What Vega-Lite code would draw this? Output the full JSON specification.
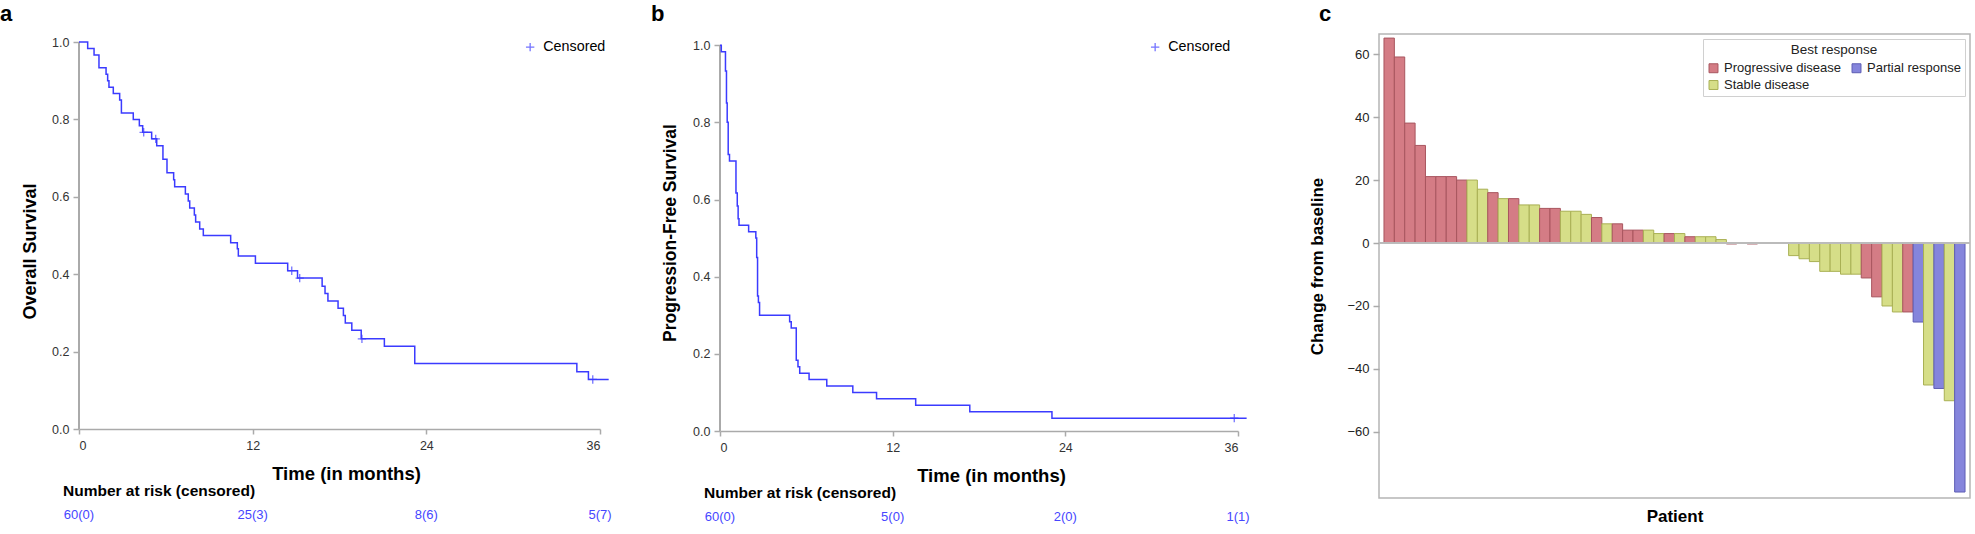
{
  "$schema": "https://vega.github.io/schema/vega-lite/v6.json",
  "padding": {"left": 0, "top": 2, "right": 0, "bottom": 0},
  "background": "white",
  "config": {
    "font": "Liberation Sans",
    "view": {"stroke": null},
    "axis": {"grid": false, "labelFont": "Liberation Sans", "titleFont": "Liberation Sans", "labelColor": "#333333", "titleColor": "#000000", "domainColor": "#aaaaaa", "tickColor": "#aaaaaa", "domainWidth": 1.5, "tickWidth": 1.5},
    "title": {"font": "Liberation Sans", "color": "#000000"}
  },
  "datasets": {
    "os": [
      {"t": 0, "s": 1.0, "status": "Event"},
      {"t": 0.6, "s": 0.9833, "status": "Event"},
      {"t": 1.04, "s": 0.9667, "status": "Event"},
      {"t": 1.38, "s": 0.9333, "status": "Event"},
      {"t": 1.87, "s": 0.9167, "status": "Event"},
      {"t": 1.98, "s": 0.9, "status": "Event"},
      {"t": 2.07, "s": 0.8833, "status": "Event"},
      {"t": 2.37, "s": 0.8667, "status": "Event"},
      {"t": 2.81, "s": 0.85, "status": "Event"},
      {"t": 2.93, "s": 0.8167, "status": "Event"},
      {"t": 3.75, "s": 0.8, "status": "Event"},
      {"t": 4.17, "s": 0.7833, "status": "Event"},
      {"t": 4.4, "s": 0.7667, "status": "Event"},
      {"t": 4.47, "s": 0.7667, "status": "Censored"},
      {"t": 5.02, "s": 0.7497, "status": "Event"},
      {"t": 5.3, "s": 0.7497, "status": "Censored"},
      {"t": 5.37, "s": 0.7322, "status": "Event"},
      {"t": 5.8, "s": 0.697, "status": "Event"},
      {"t": 6.08, "s": 0.662, "status": "Event"},
      {"t": 6.54, "s": 0.644, "status": "Event"},
      {"t": 6.61, "s": 0.626, "status": "Event"},
      {"t": 7.35, "s": 0.607, "status": "Event"},
      {"t": 7.55, "s": 0.589, "status": "Event"},
      {"t": 7.65, "s": 0.571, "status": "Event"},
      {"t": 7.97, "s": 0.553, "status": "Event"},
      {"t": 8.06, "s": 0.535, "status": "Event"},
      {"t": 8.34, "s": 0.517, "status": "Event"},
      {"t": 8.59, "s": 0.5, "status": "Event"},
      {"t": 10.48, "s": 0.481, "status": "Event"},
      {"t": 10.94, "s": 0.466, "status": "Event"},
      {"t": 11.01, "s": 0.447, "status": "Event"},
      {"t": 12.19, "s": 0.428, "status": "Event"},
      {"t": 14.42, "s": 0.409, "status": "Event"},
      {"t": 14.7, "s": 0.409, "status": "Censored"},
      {"t": 15.1, "s": 0.39, "status": "Event"},
      {"t": 15.25, "s": 0.39, "status": "Censored"},
      {"t": 16.8, "s": 0.369, "status": "Event"},
      {"t": 17.0, "s": 0.35, "status": "Event"},
      {"t": 17.2, "s": 0.331, "status": "Event"},
      {"t": 17.9, "s": 0.312, "status": "Event"},
      {"t": 18.27, "s": 0.293, "status": "Event"},
      {"t": 18.4, "s": 0.274, "status": "Event"},
      {"t": 18.85, "s": 0.255, "status": "Event"},
      {"t": 19.5, "s": 0.233, "status": "Event"},
      {"t": 19.55, "s": 0.233, "status": "Censored"},
      {"t": 21.1, "s": 0.214, "status": "Event"},
      {"t": 23.2, "s": 0.169, "status": "Event"},
      {"t": 34.4, "s": 0.148, "status": "Event"},
      {"t": 35.2, "s": 0.128, "status": "Event"},
      {"t": 35.5, "s": 0.128, "status": "Censored"},
      {"t": 36.6, "s": 0.128, "status": "End"}
    ],
    "pfs": [
      {"t": 0, "s": 1.0, "status": "Event"},
      {"t": 0.09, "s": 0.9833, "status": "Event"},
      {"t": 0.38, "s": 0.9333, "status": "Event"},
      {"t": 0.45, "s": 0.85, "status": "Event"},
      {"t": 0.5, "s": 0.8, "status": "Event"},
      {"t": 0.57, "s": 0.7167, "status": "Event"},
      {"t": 0.66, "s": 0.7, "status": "Event"},
      {"t": 1.11, "s": 0.6167, "status": "Event"},
      {"t": 1.2, "s": 0.5833, "status": "Event"},
      {"t": 1.26, "s": 0.55, "status": "Event"},
      {"t": 1.32, "s": 0.5333, "status": "Event"},
      {"t": 1.99, "s": 0.5167, "status": "Event"},
      {"t": 2.49, "s": 0.5, "status": "Event"},
      {"t": 2.55, "s": 0.45, "status": "Event"},
      {"t": 2.61, "s": 0.35, "status": "Event"},
      {"t": 2.67, "s": 0.3333, "status": "Event"},
      {"t": 2.75, "s": 0.3, "status": "Event"},
      {"t": 4.84, "s": 0.2833, "status": "Event"},
      {"t": 4.95, "s": 0.2667, "status": "Event"},
      {"t": 5.3, "s": 0.1833, "status": "Event"},
      {"t": 5.42, "s": 0.1667, "status": "Event"},
      {"t": 5.54, "s": 0.15, "status": "Event"},
      {"t": 6.19, "s": 0.1333, "status": "Event"},
      {"t": 7.42, "s": 0.1167, "status": "Event"},
      {"t": 9.23, "s": 0.1, "status": "Event"},
      {"t": 10.88, "s": 0.0833, "status": "Event"},
      {"t": 13.6, "s": 0.0667, "status": "Event"},
      {"t": 17.36, "s": 0.05, "status": "Event"},
      {"t": 23.07, "s": 0.0333, "status": "Event"},
      {"t": 35.74, "s": 0.0333, "status": "Censored"},
      {"t": 36.6, "s": 0.0333, "status": "End"}
    ],
    "riskOS": [
      {"t": 0, "label": "60(0)"},
      {"t": 12, "label": "25(3)"},
      {"t": 24, "label": "8(6)"},
      {"t": 36, "label": "5(7)"}
    ],
    "riskPFS": [
      {"t": 0, "label": "60(0)"},
      {"t": 12, "label": "5(0)"},
      {"t": 24, "label": "2(0)"},
      {"t": 36, "label": "1(1)"}
    ],
    "waterfall": [
      {"patient": 1, "change": 65.1, "response": "Progressive disease"},
      {"patient": 2, "change": 59.1, "response": "Progressive disease"},
      {"patient": 3, "change": 38.1, "response": "Progressive disease"},
      {"patient": 4, "change": 31.0, "response": "Progressive disease"},
      {"patient": 5, "change": 21.1, "response": "Progressive disease"},
      {"patient": 6, "change": 21.1, "response": "Progressive disease"},
      {"patient": 7, "change": 21.1, "response": "Progressive disease"},
      {"patient": 8, "change": 20.0, "response": "Progressive disease"},
      {"patient": 9, "change": 20.0, "response": "Stable disease"},
      {"patient": 10, "change": 17.1, "response": "Stable disease"},
      {"patient": 11, "change": 16.0, "response": "Progressive disease"},
      {"patient": 12, "change": 14.1, "response": "Stable disease"},
      {"patient": 13, "change": 14.1, "response": "Progressive disease"},
      {"patient": 14, "change": 12.1, "response": "Stable disease"},
      {"patient": 15, "change": 12.1, "response": "Stable disease"},
      {"patient": 16, "change": 11.0, "response": "Progressive disease"},
      {"patient": 17, "change": 11.0, "response": "Progressive disease"},
      {"patient": 18, "change": 10.1, "response": "Stable disease"},
      {"patient": 19, "change": 10.1, "response": "Stable disease"},
      {"patient": 20, "change": 9.1, "response": "Stable disease"},
      {"patient": 21, "change": 8.1, "response": "Progressive disease"},
      {"patient": 22, "change": 6.1, "response": "Stable disease"},
      {"patient": 23, "change": 6.1, "response": "Progressive disease"},
      {"patient": 24, "change": 4.1, "response": "Progressive disease"},
      {"patient": 25, "change": 4.1, "response": "Progressive disease"},
      {"patient": 26, "change": 4.1, "response": "Stable disease"},
      {"patient": 27, "change": 3.0, "response": "Stable disease"},
      {"patient": 28, "change": 3.0, "response": "Progressive disease"},
      {"patient": 29, "change": 3.0, "response": "Stable disease"},
      {"patient": 30, "change": 2.0, "response": "Progressive disease"},
      {"patient": 31, "change": 2.0, "response": "Stable disease"},
      {"patient": 32, "change": 2.0, "response": "Stable disease"},
      {"patient": 33, "change": 1.1, "response": "Stable disease"},
      {"patient": 34, "change": -0.3, "response": "Progressive disease"},
      {"patient": 35, "change": -0.1, "response": "Stable disease"},
      {"patient": 36, "change": -0.3, "response": "Progressive disease"},
      {"patient": 37, "change": -0.1, "response": "Stable disease"},
      {"patient": 38, "change": -0.1, "response": "Stable disease"},
      {"patient": 39, "change": -0.1, "response": "Stable disease"},
      {"patient": 40, "change": -4.0, "response": "Stable disease"},
      {"patient": 41, "change": -5.0, "response": "Stable disease"},
      {"patient": 42, "change": -5.9, "response": "Stable disease"},
      {"patient": 43, "change": -9.0, "response": "Stable disease"},
      {"patient": 44, "change": -9.0, "response": "Stable disease"},
      {"patient": 45, "change": -9.9, "response": "Stable disease"},
      {"patient": 46, "change": -9.9, "response": "Stable disease"},
      {"patient": 47, "change": -11.1, "response": "Progressive disease"},
      {"patient": 48, "change": -17.1, "response": "Progressive disease"},
      {"patient": 49, "change": -20.0, "response": "Stable disease"},
      {"patient": 50, "change": -21.9, "response": "Stable disease"},
      {"patient": 51, "change": -21.9, "response": "Progressive disease"},
      {"patient": 52, "change": -25.1, "response": "Partial response"},
      {"patient": 53, "change": -45.1, "response": "Stable disease"},
      {"patient": 54, "change": -46.2, "response": "Partial response"},
      {"patient": 55, "change": -50.1, "response": "Stable disease"},
      {"patient": 56, "change": -79.1, "response": "Partial response"}
    ]
  },
  "resolve": {"scale": {"fill": "independent", "stroke": "independent", "shape": "independent"}, "legend": {"fill": "independent", "stroke": "independent", "shape": "independent"}},
  "hconcat": [
    {
      "resolve": {"scale": {"shape": "independent"}, "legend": {"shape": "independent"}},
      "hconcat": [
        {
          "vconcat": [
            {
              "title": {"text": "a", "anchor": "start", "frame": "group", "fontSize": 22, "fontWeight": "bold", "dx": -79, "offset": -9, "baseline": "alphabetic"},
              "width": 521,
              "height": 395,
              "data": {"name": "os"},
              "layer": [
                {
                  "mark": {"type": "rule", "color": "#aaaaaa", "strokeWidth": 1.5},
                  "encoding": {"x": {"datum": 0, "type": "quantitative"}, "y": {"datum": 0, "type": "quantitative"}, "y2": {"datum": 1}}
                },
                {
                  "mark": {"type": "line", "interpolate": "step-after", "color": "#3b3bff", "strokeWidth": 1.5},
                  "encoding": {
                    "x": {"field": "t", "type": "quantitative", "scale": {"domain": [0, 36], "nice": false},
                          "axis": {"values": [0, 12, 24, 36], "tickSize": 5, "labelPadding": 5, "labelFontSize": 12.5, "title": "Time (in months)", "titleFontSize": 18.5, "titleFontWeight": "bold", "titlePadding": 13, "titleX": 267}},
                    "y": {"field": "s", "type": "quantitative", "scale": {"domain": [0, 1.0207], "nice": false},
                          "axis": {"values": [0, 0.2, 0.4, 0.6, 0.8, 1.0], "format": ".1f", "domain": false, "tickSize": 6, "labelPadding": 4, "labelFontSize": 12.5, "title": "Overall Survival", "titleFontSize": 18, "titleFontWeight": "bold", "titlePadding": 12, "titleY": 217}}
                  }
                },
                {
                  "transform": [{"filter": "datum.status === 'Censored'"}],
                  "mark": {"type": "point", "filled": false, "strokeWidth": 1.3, "size": 70, "color": "#3b3bff"},
                  "encoding": {
                    "x": {"field": "t", "type": "quantitative"},
                    "y": {"field": "s", "type": "quantitative"},
                    "shape": {"field": "status", "type": "nominal", "scale": {"range": ["M-1,0H1M0,-1V1"]},
                              "legend": {"title": null, "orient": "none", "legendX": 444, "legendY": 6, "padding": 0, "labelFontSize": 14.3, "labelColor": "#000000", "labelOffset": 6, "symbolStrokeColor": "#3b3bff", "symbolStrokeWidth": 1.3, "symbolSize": 70}}
                  }
                }
              ]
            },
            {
              "title": {"text": "Number at risk (censored)", "anchor": "start", "frame": "group", "fontSize": 15.5, "fontWeight": "bold", "dx": -16, "offset": -6.5, "baseline": "alphabetic"},
              "width": 521,
              "height": 20,
              "data": {"name": "riskOS"},
              "mark": {"type": "text", "color": "#4646ff", "fontSize": 13},
              "encoding": {
                "x": {"field": "t", "type": "quantitative", "scale": {"domain": [0, 36], "nice": false}, "axis": null},
                "text": {"field": "label", "type": "nominal"}
              }
            }
          ],
          "spacing": 0.5
        },
        {
          "vconcat": [
            {
              "title": {"text": "b", "anchor": "start", "frame": "group", "fontSize": 22, "fontWeight": "bold", "dx": -69, "offset": -9, "baseline": "alphabetic"},
              "width": 518,
              "height": 397,
              "data": {"name": "pfs"},
              "layer": [
                {
                  "mark": {"type": "rule", "color": "#aaaaaa", "strokeWidth": 1.5},
                  "encoding": {"x": {"datum": 0, "type": "quantitative"}, "y": {"datum": 0, "type": "quantitative"}, "y2": {"datum": 1}}
                },
                {
                  "mark": {"type": "line", "interpolate": "step-after", "color": "#3b3bff", "strokeWidth": 1.5},
                  "encoding": {
                    "x": {"field": "t", "type": "quantitative", "scale": {"domain": [0, 36], "nice": false},
                          "axis": {"values": [0, 12, 24, 36], "tickSize": 5, "labelPadding": 5, "labelFontSize": 12.5, "title": "Time (in months)", "titleFontSize": 18.5, "titleFontWeight": "bold", "titlePadding": 13, "titleX": 271}},
                    "y": {"field": "s", "type": "quantitative", "scale": {"domain": [0, 1.029], "nice": false},
                          "axis": {"values": [0, 0.2, 0.4, 0.6, 0.8, 1.0], "format": ".1f", "domain": false, "tickSize": 6, "labelPadding": 4, "labelFontSize": 12.5, "title": "Progression-Free Survival", "titleFontSize": 17.5, "titleFontWeight": "bold", "titlePadding": 13}}
                  }
                },
                {
                  "transform": [{"filter": "datum.status === 'Censored'"}],
                  "mark": {"type": "point", "filled": false, "strokeWidth": 1.3, "size": 70, "color": "#3b3bff"},
                  "encoding": {
                    "x": {"field": "t", "type": "quantitative"},
                    "y": {"field": "s", "type": "quantitative"},
                    "shape": {"field": "status", "type": "nominal", "scale": {"range": ["M-1,0H1M0,-1V1"]},
                              "legend": {"title": null, "orient": "none", "legendX": 428, "legendY": 6, "padding": 0, "labelFontSize": 14.3, "labelColor": "#000000", "labelOffset": 6, "symbolStrokeColor": "#3b3bff", "symbolStrokeWidth": 1.3, "symbolSize": 70}}
                  }
                }
              ]
            },
            {
              "title": {"text": "Number at risk (censored)", "anchor": "start", "frame": "group", "fontSize": 15.5, "fontWeight": "bold", "dx": -16, "offset": -6.5, "baseline": "alphabetic"},
              "width": 518,
              "height": 20,
              "data": {"name": "riskPFS"},
              "mark": {"type": "text", "color": "#4646ff", "fontSize": 13},
              "encoding": {
                "x": {"field": "t", "type": "quantitative", "scale": {"domain": [0, 36], "nice": false}, "axis": null},
                "text": {"field": "label", "type": "nominal"}
              }
            }
          ],
          "spacing": 0.5
        }
      ],
      "spacing": 39
    },
    {
      "title": {"text": "c", "anchor": "start", "frame": "group", "fontSize": 22, "fontWeight": "bold", "dx": -60, "offset": -9, "baseline": "alphabetic"},
      "width": 591,
      "height": 464,
      "view": {"stroke": "#b5b5b5", "strokeWidth": 1.5},
      "data": {"name": "waterfall"},
      "layer": [
        {
          "mark": {"type": "bar", "strokeWidth": 1},
          "encoding": {
            "x": {"field": "patient", "type": "ordinal", "sort": null, "scale": {"paddingInner": 0, "paddingOuter": 0.48},
                  "axis": {"title": "Patient", "labels": false, "ticks": false, "domain": false, "titleFontSize": 17, "titleFontWeight": "bold", "titlePadding": 10}},
            "y": {"field": "change", "type": "quantitative", "scale": {"domain": [-81, 66.4], "nice": false},
                  "axis": {"values": [-60, -40, -20, 0, 20, 40, 60], "domain": false, "tickSize": 6, "labelPadding": 4, "labelFontSize": 13, "labelColor": "#222222", "title": "Change from baseline", "titleFontSize": 17, "titleFontWeight": "bold", "titlePadding": 20}},
            "fill": {"field": "response", "type": "nominal",
                     "scale": {"domain": ["Progressive disease", "Stable disease", "Partial response"], "range": ["#d47c85", "#d6de88", "#8585dc"]},
                     "legend": {"title": "Best response", "orient": "top-right", "offset": 5, "columns": 2, "titleAnchor": "middle", "titleFontWeight": "normal", "titleFontSize": 13.5, "titleColor": "#222222", "labelFontSize": 13, "labelColor": "#222222", "symbolType": "square", "symbolSize": 80, "symbolStrokeWidth": 1, "columnPadding": 8, "rowPadding": 3, "padding": 4, "strokeColor": "#d0d0d0", "fillColor": "white"}},
            "stroke": {"field": "response", "type": "nominal",
                       "scale": {"domain": ["Progressive disease", "Stable disease", "Partial response"], "range": ["#a8565f", "#a9b054", "#5d5db4"]},
                       "legend": null}
          }
        },
        {
          "mark": {"type": "rule", "color": "#bbbbbb", "strokeWidth": 1},
          "encoding": {"y": {"datum": 0, "type": "quantitative"}}
        }
      ]
    }
  ],
  "spacing": 58
}
